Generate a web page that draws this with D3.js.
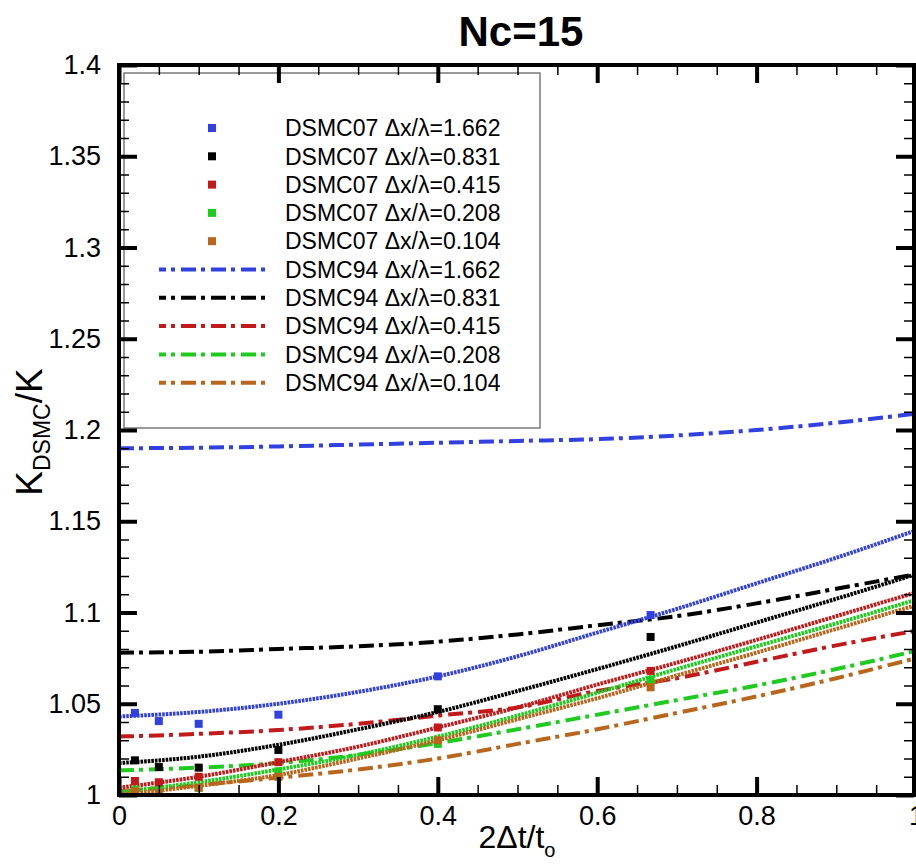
<!DOCTYPE html>
<html>
<head>
<meta charset="utf-8">
<script src="https://cdn.jsdelivr.net/npm/d3@7"></script>
<style>
  html, body { margin: 0; padding: 0; background: #fff; }
  svg { display: block; font-family: Arial, "Liberation Sans", sans-serif; }
</style>
</head>
<body>
<svg id="chart" width="916" height="867"></svg>
<script>
// ---- data ----------------------------------------------------------------
// grid spacing labels (Δx/λ) of the five runs
const spacings = ["1.662", "0.831", "0.415", "0.208", "0.104"];
const seriesColors = ["#3140e0", "#000000", "#c21a1a", "#1fcb1f", "#b9661c"];

// DSMC07 sampled points: time-step ratio 2Δt/t0 and K_DSMC/K
const samplePts = [0.02, 0.05, 0.1, 0.2, 0.4, 0.667, 1.0];
const dsmc07_1662 = [1.045, 1.0405, 1.039, 1.044, 1.065, 1.0986, 1.145];
const dsmc07_0831 = [1.019, 1.0153, 1.015, 1.0247, 1.047, 1.0866, 1.129];
const dsmc07_0415 = [1.0077, 1.007, 1.010, 1.018, 1.037, 1.068, 1.116];
const dsmc07_0208 = [1.003, 1.002, 1.004, 1.013, 1.028, 1.063, 1.111];
const dsmc07_0104 = [1.002, 1.001, 1.004, 1.010, 1.030, 1.059, 1.107];

// fitted DSMC07 curves, read at regular 2Δt/t0 stations
const fitPts = [0, 0.1, 0.2, 0.3, 0.4, 0.5, 0.6, 0.7, 0.8, 0.9, 1.0];
const fit07_1662 = [1.043, 1.0455, 1.050, 1.0565, 1.065, 1.076, 1.089, 1.102, 1.116, 1.130, 1.145];
const fit07_0831 = [1.0175, 1.021, 1.0275, 1.036, 1.0455, 1.057, 1.069, 1.0815, 1.0945, 1.1075, 1.121];
const fit07_0415 = [1.004, 1.010, 1.018, 1.0265, 1.037, 1.048, 1.0605, 1.0725, 1.085, 1.098, 1.111];
const fit07_0208 = [1.0015, 1.007, 1.014, 1.022, 1.032, 1.0435, 1.056, 1.069, 1.0815, 1.094, 1.107];
const fit07_0104 = [1.000, 1.005, 1.011, 1.020, 1.030, 1.0415, 1.053, 1.0655, 1.078, 1.091, 1.104];

// DSMC94 curves at the same stations
const dsmc94_1662 = [1.190, 1.1903, 1.191, 1.192, 1.193, 1.194, 1.195, 1.197, 1.200, 1.204, 1.209];
const dsmc94_0831 = [1.078, 1.0785, 1.080, 1.0815, 1.084, 1.088, 1.093, 1.098, 1.105, 1.113, 1.121];
const dsmc94_0415 = [1.032, 1.0335, 1.0356, 1.039, 1.0435, 1.048, 1.057, 1.064, 1.073, 1.082, 1.090];
const dsmc94_0208 = [1.0135, 1.015, 1.0175, 1.022, 1.0285, 1.036, 1.044, 1.052, 1.060, 1.069, 1.079];
const dsmc94_0104 = [1.002, 1.0055, 1.0095, 1.014, 1.020, 1.028, 1.036, 1.045, 1.054, 1.064, 1.075];

// axis ticks
const xMajor = [0, 0.2, 0.4, 0.6, 0.8, 1.0];
const xTickLabels = ["0", "0.2", "0.4", "0.6", "0.8", "1"];
const xMinor = [0.05, 0.1, 0.15, 0.25, 0.3, 0.35, 0.45, 0.5, 0.55, 0.65, 0.7, 0.75, 0.85, 0.9, 0.95];
const yMajor = [1, 1.05, 1.1, 1.15, 1.2, 1.25, 1.3, 1.35, 1.4];
const yTickLabels = ["1", "1.05", "1.1", "1.15", "1.2", "1.25", "1.3", "1.35", "1.4"];
const yMinor = d3.range(1, 40).filter(i => i % 5 !== 0).map(i => 1 + i * 0.01);

const scatterSets = [dsmc07_1662, dsmc07_0831, dsmc07_0415, dsmc07_0208, dsmc07_0104];
const fitSets = [fit07_1662, fit07_0831, fit07_0415, fit07_0208, fit07_0104];
const oldSets = [dsmc94_1662, dsmc94_0831, dsmc94_0415, dsmc94_0208, dsmc94_0104];

// ---- layout --------------------------------------------------------------
const svg = d3.select("#chart");
const pLeft = 119, pRight = 916, pTop = 65, pBottom = 795, frameRight = 914;
const x = d3.scaleLinear().domain([0, 1]).range([pLeft, pRight]);
const y = d3.scaleLinear().domain([1, 1.4]).range([pBottom, pTop]);

const DASHDOT = "15,5,4,6";

svg.append("defs").append("clipPath").attr("id", "plotClip")
  .append("rect").attr("x", pLeft).attr("y", pTop)
  .attr("width", pRight - pLeft).attr("height", pBottom - pTop);

// title
svg.append("text")
  .attr("x", 521).attr("y", 46)
  .attr("text-anchor", "middle")
  .attr("font-weight", "bold")
  .attr("font-size", 42)
  .text("Nc=15");

// legend frame (behind the ticks)
const lgX = 124, lgY = 73, lgW = 416, lgH = 355;
svg.append("rect")
  .attr("x", lgX).attr("y", lgY).attr("width", lgW).attr("height", lgH)
  .attr("fill", "#fff").attr("stroke", "#7a7a7a").attr("stroke-width", 1.5);

// data
const plot = svg.append("g").attr("clip-path", "url(#plotClip)");
const lineGen = d3.line()
  .x(d => x(d[0])).y(d => y(d[1]))
  .curve(d3.curveMonotoneX);

oldSets.forEach((vals, i) => {
  plot.append("path")
    .datum(fitPts.map((t, j) => [t, vals[j]]))
    .attr("d", lineGen)
    .attr("fill", "none")
    .attr("stroke", seriesColors[i])
    .attr("stroke-width", 4)
    .attr("stroke-dasharray", DASHDOT);
});

fitSets.forEach((vals, i) => {
  plot.append("path")
    .datum(fitPts.map((t, j) => [t, vals[j]]))
    .attr("d", lineGen)
    .attr("fill", "none")
    .attr("stroke", seriesColors[i])
    .attr("stroke-width", 4)
    .attr("stroke-dasharray", "2.6,1");
});

const MK = 8;
scatterSets.forEach((vals, i) => {
  plot.selectAll(null)
    .data(samplePts.map((t, j) => [t, vals[j]]))
    .enter().append("rect")
    .attr("x", d => x(d[0]) - MK / 2)
    .attr("y", d => y(d[1]) - MK / 2)
    .attr("width", MK).attr("height", MK)
    .attr("fill", seriesColors[i]);
});

// ---- axes: inward ticks on all four sides -----------------------------------
function styleAxis(g, width) {
  g.select(".domain").remove();
  g.selectAll(".tick line").attr("stroke", "#000").attr("stroke-width", width);
  g.selectAll("text").attr("fill", "#000")
    .attr("font-family", "Arial, 'Liberation Sans', sans-serif");
}

const MAJ = 18, MIN = 10;

const gBottom = svg.append("g").attr("transform", `translate(0,${pBottom})`)
  .call(d3.axisBottom(x).tickValues(xMajor).tickSize(-MAJ).tickPadding(7)
    .tickFormat((d, i) => xTickLabels[i]));
styleAxis(gBottom, 4);
gBottom.selectAll("text").attr("font-size", 27).attr("dy", "0.85em");

svg.append("g").attr("transform", `translate(0,${pBottom})`)
  .call(d3.axisBottom(x).tickValues(xMinor).tickSize(-MIN).tickFormat(""))
  .call(g => styleAxis(g, 1.5));

svg.append("g").attr("transform", `translate(0,${pTop})`)
  .call(d3.axisTop(x).tickValues(xMajor).tickSize(-MAJ).tickFormat(""))
  .call(g => styleAxis(g, 4));
svg.append("g").attr("transform", `translate(0,${pTop})`)
  .call(d3.axisTop(x).tickValues(xMinor).tickSize(-MIN).tickFormat(""))
  .call(g => styleAxis(g, 1.5));

const gLeft = svg.append("g").attr("transform", `translate(${pLeft},0)`)
  .call(d3.axisLeft(y).tickValues(yMajor).tickSize(-MAJ).tickPadding(18)
    .tickFormat((d, i) => yTickLabels[i]));
styleAxis(gLeft, 4);
gLeft.selectAll("text").attr("font-size", 27);

svg.append("g").attr("transform", `translate(${pLeft},0)`)
  .call(d3.axisLeft(y).tickValues(yMinor).tickSize(-MIN).tickFormat(""))
  .call(g => styleAxis(g, 1.5));

svg.append("g").attr("transform", `translate(${frameRight},0)`)
  .call(d3.axisRight(y).tickValues(yMajor).tickSize(-MAJ).tickFormat(""))
  .call(g => styleAxis(g, 4));
svg.append("g").attr("transform", `translate(${frameRight},0)`)
  .call(d3.axisRight(y).tickValues(yMinor).tickSize(-MIN).tickFormat(""))
  .call(g => styleAxis(g, 1.5));

// frame
svg.append("path")
  .attr("d", `M${pLeft},${pTop}H${frameRight}V${pBottom}H${pLeft}Z`)
  .attr("fill", "none").attr("stroke", "#000").attr("stroke-width", 4)
  .attr("stroke-linejoin", "miter");

// axis titles
const xt = svg.append("text")
  .attr("x", 517).attr("y", 848)
  .attr("text-anchor", "middle")
  .attr("font-size", 32);
xt.append("tspan").text("2Δt/t");
xt.append("tspan").attr("font-size", 20).attr("dy", 9).text("o");

const yt = svg.append("text")
  .attr("transform", "translate(42,432) rotate(-90)")
  .attr("text-anchor", "middle")
  .attr("font-size", 37);
yt.append("tspan").text("K");
yt.append("tspan").attr("font-size", 23).attr("dy", 8).text("DSMC");
yt.append("tspan").attr("dy", -8).text("/K");

// ---- legend entries --------------------------------------------------------
const rowY0 = 128, rowStep = 28.3;
const legendRows = [];
spacings.forEach((s, i) => legendRows.push({ kind: "pt", label: `DSMC07 Δx/λ=${s}`, color: seriesColors[i] }));
spacings.forEach((s, i) => legendRows.push({ kind: "line", label: `DSMC94 Δx/λ=${s}`, color: seriesColors[i] }));

const lg = svg.append("g");
legendRows.forEach((r, i) => {
  const cy = rowY0 + i * rowStep;
  if (r.kind === "pt") {
    lg.append("rect").attr("x", 212 - MK / 2).attr("y", cy - MK / 2)
      .attr("width", MK).attr("height", MK).attr("fill", r.color);
  } else {
    lg.append("line").attr("x1", 159).attr("x2", 266).attr("y1", cy).attr("y2", cy)
      .attr("stroke", r.color).attr("stroke-width", 4)
      .attr("stroke-dasharray", DASHDOT).attr("stroke-dashoffset", 8);
  }
  lg.append("text").attr("x", 285).attr("y", cy).attr("dy", "0.36em")
    .attr("font-size", 23).text(r.label);
});
</script>
</body>
</html>
